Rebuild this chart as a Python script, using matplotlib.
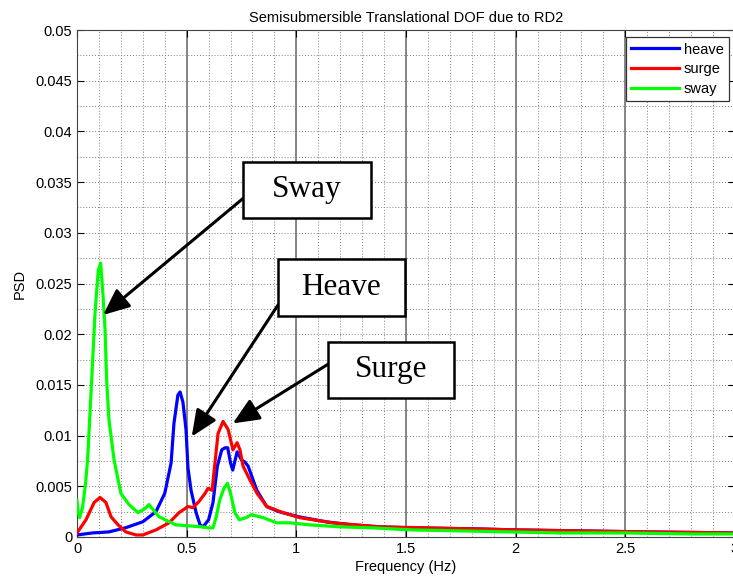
import matplotlib
matplotlib.use("Agg")
import matplotlib.pyplot as plt
from matplotlib.patches import Rectangle
from matplotlib.ticker import MultipleLocator

plt.rcParams['font.family'] = ['Liberation Sans', 'DejaVu Sans']

# Power spectral density of the translational degrees of freedom
heave_f = [0, 0.07, 0.145, 0.22, 0.30, 0.36, 0.40, 0.429, 0.442, 0.46, 0.47, 0.483,
           0.497, 0.506, 0.52, 0.543, 0.561, 0.575, 0.60, 0.62, 0.64, 0.66, 0.675,
           0.687, 0.70, 0.71, 0.73, 0.75, 0.765, 0.78, 0.80, 0.82, 0.865, 0.92,
           1.01, 1.135, 1.25, 1.38, 1.53, 1.83, 2.0, 2.3, 2.6, 3.0]
heave_psd = [0.0002, 0.0004, 0.0005, 0.0009, 0.0015, 0.0025, 0.0043, 0.0073, 0.0112,
             0.0140, 0.0143, 0.0133, 0.0106, 0.0068, 0.0046, 0.0024, 0.0012, 0.0010,
             0.0017, 0.0034, 0.0070, 0.0086, 0.0088, 0.0088, 0.0073, 0.0066, 0.0084,
             0.0076, 0.0074, 0.0070, 0.0058, 0.0046, 0.0030, 0.0025, 0.0020, 0.0015,
             0.0012, 0.0010, 0.0009, 0.0008, 0.0007, 0.0006, 0.0005, 0.0004]

surge_f = [0, 0.041, 0.078, 0.105, 0.132, 0.155, 0.187, 0.223, 0.269, 0.30, 0.36,
           0.42, 0.465, 0.506, 0.529, 0.556, 0.584, 0.597, 0.616, 0.629, 0.643,
           0.666, 0.689, 0.711, 0.73, 0.743, 0.757, 0.789, 0.821, 0.866, 0.939,
           1.017, 1.165, 1.38, 1.6, 1.8, 2.0, 2.3, 2.6, 3.0]
surge_psd = [0.0004, 0.0017, 0.0034, 0.0039, 0.0034, 0.0020, 0.0012, 0.0005, 0.0002,
             0.0002, 0.0007, 0.0014, 0.0024, 0.0030, 0.0029, 0.0035, 0.0043, 0.0048,
             0.0046, 0.0073, 0.0102, 0.0114, 0.0106, 0.0086, 0.0093, 0.0086, 0.0070,
             0.0056, 0.0043, 0.0030, 0.0024, 0.0019, 0.0014, 0.0010, 0.0009, 0.0008,
             0.0007, 0.0006, 0.0005, 0.0004]

sway_f = [0, 0.005, 0.012, 0.026, 0.04, 0.049, 0.067, 0.082, 0.097, 0.108, 0.119,
          0.128, 0.135, 0.146, 0.169, 0.20, 0.237, 0.278, 0.31, 0.328, 0.374, 0.45,
          0.51, 0.57, 0.60, 0.62, 0.635, 0.65, 0.67, 0.686, 0.70, 0.72, 0.74, 0.77,
          0.795, 0.85, 0.91, 0.97, 1.06, 1.2, 1.35, 1.53, 1.75, 1.98, 2.2, 2.5, 2.8, 3.0]
sway_psd = [0.0036, 0.0025, 0.0019, 0.0030, 0.0055, 0.0079, 0.0155, 0.0220, 0.0263,
            0.0270, 0.0237, 0.0204, 0.0155, 0.0115, 0.0076, 0.0043, 0.0032, 0.0024,
            0.0028, 0.0032, 0.0020, 0.0012, 0.0011, 0.0010, 0.0009, 0.0009, 0.0020,
            0.0036, 0.0048, 0.0053, 0.0043, 0.0024, 0.0017, 0.0019, 0.0022, 0.0019,
            0.0014, 0.0014, 0.0012, 0.0010, 0.0009, 0.0007, 0.0006, 0.0005, 0.0004,
            0.0004, 0.0003, 0.0003]

# Callout labels: text, tip of the arrow on the curve (Hz, PSD)
callouts = [
    ("Sway", 0.119, 0.0219),
    ("Heave", 0.523, 0.0099),
    ("Surge", 0.71, 0.0112),
]

W, H = 733, 583
fig = plt.figure(figsize=(W / 100, H / 100), dpi=100)
ax = fig.add_axes([77 / W, 1 - 537 / H, 658 / W, 507 / H])

ax.set_xlim(0, 3)
ax.set_ylim(0, 0.05)
ax.xaxis.set_minor_locator(MultipleLocator(0.1))
ax.yaxis.set_minor_locator(MultipleLocator(0.0025))
ax.set_xticks([0, 0.5, 1, 1.5, 2, 2.5, 3])
ax.set_xticklabels(['0', '0.5', '1', '1.5', '2', '2.5', '3'])
ax.set_yticks([i * 0.005 for i in range(11)])
ax.set_yticklabels(['0'] + ['%g' % (i * 0.005) for i in range(1, 11)])

ax.grid(which='both', axis='both', color='#808080', linestyle=(0, (1, 2)), linewidth=0.7)
for xv in [0.5, 1, 1.5, 2, 2.5]:
    ax.axvline(xv, color='#666666', linewidth=1.1, zorder=1.5)

ax.tick_params(which='both', direction='in', top=True, right=True, labelsize=10.5,
               colors='black')
ax.tick_params(which='major', length=5, width=0.8)
ax.tick_params(which='minor', length=0)
for s in ax.spines.values():
    s.set_color('#444444')
    s.set_linewidth(0.8)

ax.plot(heave_f, heave_psd, color='#0000ff', lw=2.3, label='heave', zorder=3)
ax.plot(surge_f, surge_psd, color='#ff0000', lw=2.3, label='surge', zorder=3)
ax.plot(sway_f, sway_psd, color='#00ff00', lw=2.3, label='sway', zorder=3)

ax.set_title('Semisubmersible Translational DOF due to RD2', fontsize=10.5, pad=6)
ax.set_xlabel('Frequency (Hz)', fontsize=10.5, labelpad=3)
ax.set_ylabel('PSD', fontsize=10.5, labelpad=6)

leg = ax.legend(loc='upper right', bbox_to_anchor=(729 / W, 1 - 37 / H),
                bbox_transform=fig.transFigure, fancybox=False, framealpha=1,
                edgecolor='#333333', fontsize=10.5, handlelength=3.3,
                handletextpad=0.3, labelspacing=0.38, borderpad=0.38,
                borderaxespad=0)
leg.get_frame().set_linewidth(0.9)
for line in leg.get_lines():
    line.set_linewidth(2.3)

# Boxed callouts with arrows pointing at each resonance peak
boxes = [(243, 162, 371, 218), (278, 259, 405, 316), (328, 342, 454, 398)]
starts = [(246, 196), (278, 305), (330, 363)]
for (label, tf, tp), (x0, y0, x1, y1), (sx, sy) in zip(callouts, boxes, starts):
    fig.patches.append(Rectangle((x0 / W, 1 - y1 / H), (x1 - x0) / W, (y1 - y0) / H,
                                 transform=fig.transFigure, facecolor='white',
                                 edgecolor='black', linewidth=1.8, zorder=5))
    fig.text((x0 + x1) / 2 / W, 1 - (y0 + y1) / 2 / H, label,
             family=['Liberation Serif', 'DejaVu Serif'], fontsize=22.5,
             ha='center', va='center', zorder=6)
    ax.annotate('', xy=(tf, tp), xycoords='data',
                xytext=(sx, H - sy), textcoords='figure pixels',
                arrowprops=dict(arrowstyle='-|>,head_length=0.8,head_width=0.35',
                                color='black', lw=2.2, shrinkA=0, shrinkB=0,
                                mutation_scale=20),
                zorder=4, annotation_clip=False)

fig.savefig('out.png', dpi=100)
